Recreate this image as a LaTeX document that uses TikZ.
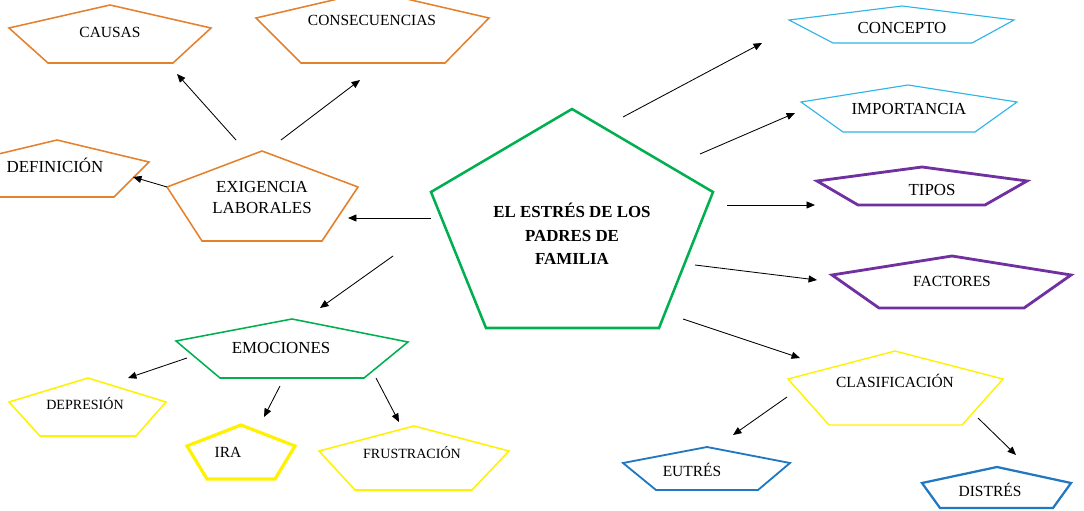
\documentclass[tikz,border=0pt]{standalone}
\usepackage{fontspec}
\setmainfont{Liberation Serif}
\usetikzlibrary{calc,arrows.meta}
\definecolor{naranja}{HTML}{E5802C}
\definecolor{verde}{HTML}{00B050}
\definecolor{celeste}{HTML}{2CB5E6}
\definecolor{morado}{HTML}{7030A0}
\definecolor{amarillo}{HTML}{FFF200}
\definecolor{azul}{HTML}{1F78C1}

\begin{document}
\begin{tikzpicture}[x=0.025cm,y=-0.025cm,line join=miter,
    caja/.style={line width=1.1pt},
    gruesa/.style={line width=2pt},
    flecha/.style={line width=0.6pt,-{Triangle[length=6pt,width=5pt]}},
    txt/.style={inner sep=0pt,anchor=base,font=\fontsize{11}{13}\selectfont},
    txtg/.style={txt,font=\fontsize{12}{14}\selectfont},
    txtp/.style={txt,font=\fontsize{10}{12}\selectfont}]
        \useasboundingbox (0,0) rectangle (1084,511);
        \coordinate (a1) at (236,140);
        \coordinate (b1) at (177,74);
        \coordinate (a2) at (281,140);
        \coordinate (b2) at (360,80);
        \coordinate (a3) at (167,187);
        \coordinate (b3) at (133,177);
        \coordinate (a4) at (431,218);
        \coordinate (b4) at (348,218);
        \coordinate (a5) at (393,256);
        \coordinate (b5) at (320,308);
        \coordinate (a6) at (187,358);
        \coordinate (b6) at (128,378);
        \coordinate (a7) at (280,386);
        \coordinate (b7) at (264,417);
        \coordinate (a8) at (376,378);
        \coordinate (b8) at (399,422);
        \coordinate (a9) at (623,117);
        \coordinate (b9) at (762,43);
        \coordinate (a10) at (700,154);
        \coordinate (b10) at (795,113);
        \coordinate (a11) at (727,205);
        \coordinate (b11) at (815,205);
        \coordinate (a12) at (695,265);
        \coordinate (b12) at (817,280);
        \coordinate (a13) at (683,319);
        \coordinate (b13) at (800,358);
        \coordinate (a14) at (787,397);
        \coordinate (b14) at (733,435);
        \coordinate (a15) at (978,418);
        \coordinate (b15) at (1016,455);
        \draw[verde,line width=1.8pt] (572,109) -- (713,192) -- (659,328) -- (486,328) -- (431,192) -- cycle;
        \draw[naranja,caja] (110,5) -- (211,28) -- (173,63) -- (48,63) -- (9,28) -- cycle;
        \draw[naranja,caja] (372,-9) -- (489,18) -- (445,63) -- (301,63) -- (256,18) -- cycle;
        \draw[naranja,caja] (57,140) -- (149,162) -- (114,197) -- (0,197) -- (-35,162) -- cycle;
        \draw[naranja,caja] (262,151) -- (358,187) -- (322,241) -- (202,241) -- (167,187) -- cycle;
        \draw[verde,caja] (292,319) -- (408,342) -- (364,378) -- (220,378) -- (176,341) -- cycle;
        \draw[amarillo,caja] (88,378) -- (166,402) -- (136,436) -- (40,436) -- (9,402) -- cycle;
        \draw[amarillo,line width=2.3pt] (241,425) -- (295,446) -- (275,479) -- (207,479) -- (187,446) -- cycle;
        \draw[amarillo,caja] (414,426) -- (509,451) -- (472,490) -- (355,490) -- (319,451) -- cycle;
        \draw[celeste,line width=0.8pt] (902,6) -- (1014,20) -- (972,43) -- (833,43) -- (789,20) -- cycle;
        \draw[celeste,line width=0.8pt] (908,85) -- (1017,102) -- (975,132) -- (843,132) -- (801,102) -- cycle;
        \draw[morado,gruesa] (922,167) -- (1027,181) -- (985,205) -- (858,205) -- (817,181) -- cycle;
        \draw[morado,gruesa] (952,256) -- (1071,275) -- (1024,308) -- (879,308) -- (832,275) -- cycle;
        \draw[amarillo,line width=1pt] (895,351) -- (1003,379) -- (962,425) -- (829,425) -- (788,379) -- cycle;
        \draw[azul,line width=1.3pt] (707,447) -- (790,463) -- (758,490) -- (656,490) -- (623,463) -- cycle;
        \draw[azul,line width=1.6pt] (997,467) -- (1071,483) -- (1053,508) -- (940,508) -- (922,483) -- cycle;
        \node[txtg,font=\fontsize{12}{17}\selectfont\bfseries,align=center] (estres) at (572,265) {EL ESTRÉS DE LOS\\PADRES DE\\FAMILIA};
        \node[txt] (causas) at (110,38) {CAUSAS};
        \node[txt] (consec) at (372,26) {CONSECUENCIAS};
        \node[txtg] (defin) at (55,173) {DEFINICIÓN};
        \node[txtg,align=center,font=\fontsize{12}{15.5}\selectfont] (exig) at (262,214) {EXIGENCIA\\LABORALES};
        \node[txtg] (emoc) at (281,353) {EMOCIONES};
        \node[txtp] (depre) at (85,409) {DEPRESIÓN};
        \node[txt] (ira) at (228,457) {IRA};
        \node[txtp] (frustr) at (412,458) {FRUSTRACIÓN};
        \node[txtg] (concepto) at (902,34) {CONCEPTO};
        \node[txtg] (import) at (909,115) {IMPORTANCIA};
        \node[txtg] (tipos) at (932,196) {TIPOS};
        \node[txt] (factores) at (952,287) {FACTORES};
        \node[txt] (clasif) at (895,387) {CLASIFICACIÓN};
        \node[txt] (eutres) at (692,476) {EUTRÉS};
        \node[txt] (distres) at (990,496) {DISTRÉS};
        \draw[flecha] (a1) -- (b1);
        \draw[flecha] (a2) -- (b2);
        \draw[flecha] (a3) -- (b3);
        \draw[flecha] (a4) -- (b4);
        \draw[flecha] (a5) -- (b5);
        \draw[flecha] (a6) -- (b6);
        \draw[flecha] (a7) -- (b7);
        \draw[flecha] (a8) -- (b8);
        \draw[flecha] (a9) -- (b9);
        \draw[flecha] (a10) -- (b10);
        \draw[flecha] (a11) -- (b11);
        \draw[flecha] (a12) -- (b12);
        \draw[flecha] (a13) -- (b13);
        \draw[flecha] (a14) -- (b14);
        \draw[flecha] (a15) -- (b15);
    \end{tikzpicture}
\end{document}
